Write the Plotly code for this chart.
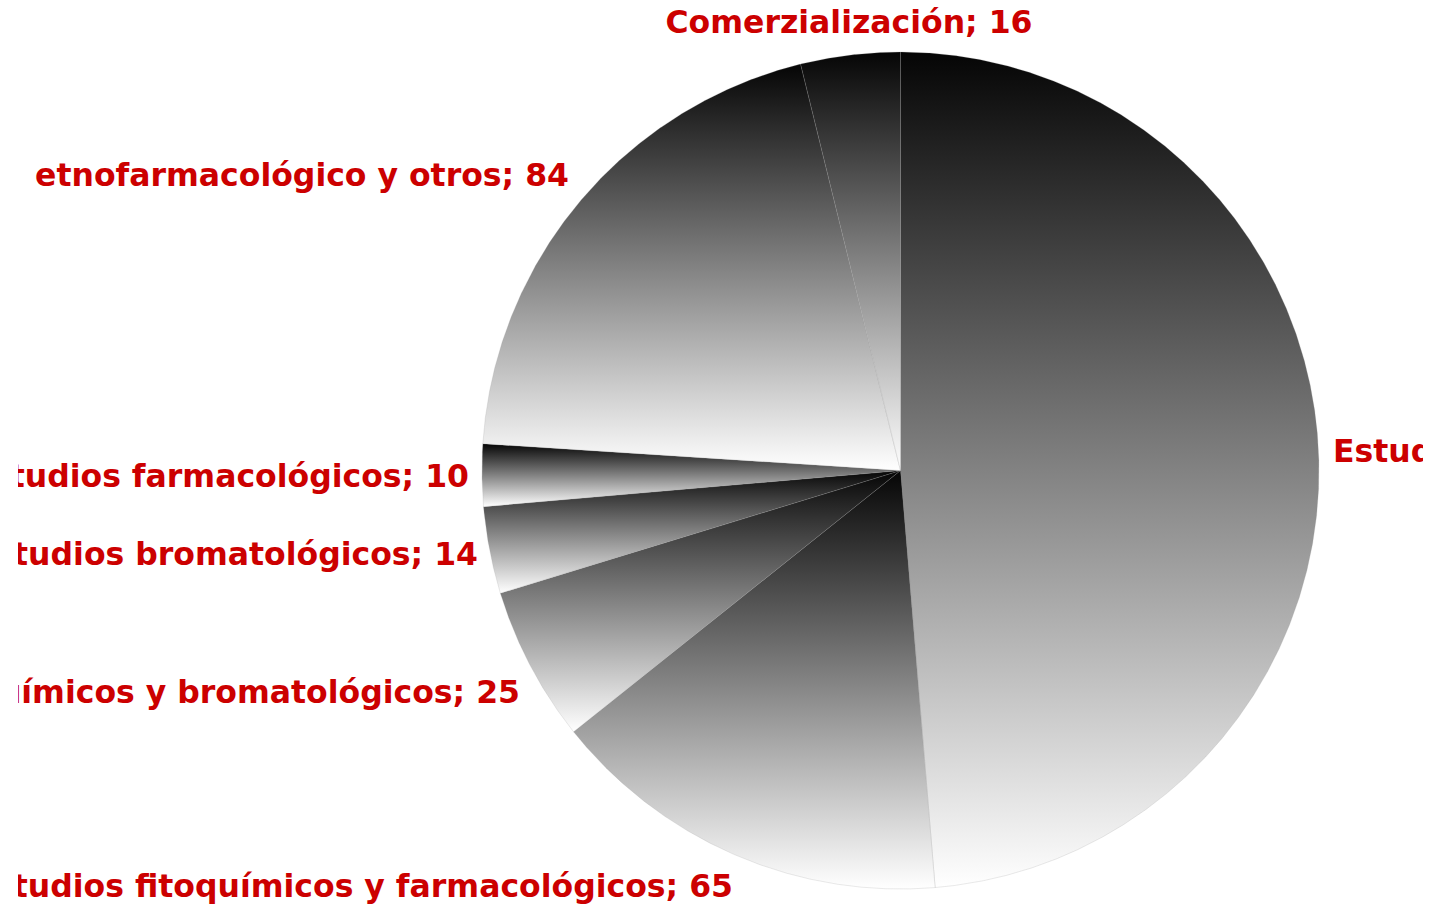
import numpy as np
import plotly.graph_objects as go

# ---- data, clockwise from 12 o'clock ----
categories = [
    "Estudios fitoquímicos",
    "Estudios fitoquímicos y farmacológicos",
    "Estudios fitoquímicos y bromatológicos",
    "Estudios bromatológicos",
    "Estudios farmacológicos",
    "etnofarmacológico y otros",
    "Comerzialización",
]
values = [203, 65, 25, 14, 10, 84, 16]

# ---- layout constants (page pixels) ----
FIG_W, FIG_H = 1431, 905
CX, CY, R = 900.5, 470.5, 418.5   # pie centre / radius on the page
CLIP_LEFT, CLIP_RIGHT = 18, 1423

def ux(px):
    return (px - CX) / R

def uy(py):
    return (CY - py) / R

# label anchor points (page px) and text alignment
label_layout = [
    (1333, 454, "middle right"),
    (733, 889, "middle left"),
    (520, 695, "middle left"),
    (478, 557, "middle left"),
    (469, 479, "middle left"),
    (569, 178, "middle left"),
    (849, 25, "middle center"),
]

fig = go.Figure()

total = float(sum(values))
start = 0.0
for val in values:
    span = 360.0 * val / total
    n = max(3, int(span * 6))
    th = np.radians(np.linspace(start, start + span, n))
    xs = np.concatenate([[0.0], np.sin(th), [0.0]])
    ys = np.concatenate([[0.0], np.cos(th), [0.0]])
    fig.add_trace(go.Scatter(
        x=xs, y=ys, mode="lines", fill="toself",
        line=dict(width=0.6, color="rgba(150,150,150,0.35)"),
        fillgradient=dict(type="vertical",
                          colorscale=[[0, "#ffffff"], [1, "#050505"]]),
        hoverinfo="skip", showlegend=False,
    ))
    start += span

for cat, num, (px, py, pos) in zip(categories, values, label_layout):
    fig.add_trace(go.Scatter(
        x=[ux(px)], y=[uy(py)], mode="text",
        text=[f"{cat}; {num}"], textposition=pos,
        textfont=dict(family="DejaVu Sans", size=31.5, color="#CC0000",
                      weight="bold"),
        cliponaxis=True, hoverinfo="skip", showlegend=False,
    ))

fig.update_layout(
    width=FIG_W, height=FIG_H,
    margin=dict(l=0, r=0, t=0, b=0),
    paper_bgcolor="white", plot_bgcolor="white",
    xaxis=dict(domain=[CLIP_LEFT / FIG_W, CLIP_RIGHT / FIG_W],
               range=[ux(CLIP_LEFT), ux(CLIP_RIGHT)],
               visible=False, fixedrange=True),
    yaxis=dict(domain=[0, 1], range=[uy(FIG_H), uy(0)],
               visible=False, fixedrange=True),
)

fig.write_html(
    "out.html",
    config={"displayModeBar": False},
    post_script="document.body.style.margin='0';"
                "document.body.style.overflow='hidden';",
)
